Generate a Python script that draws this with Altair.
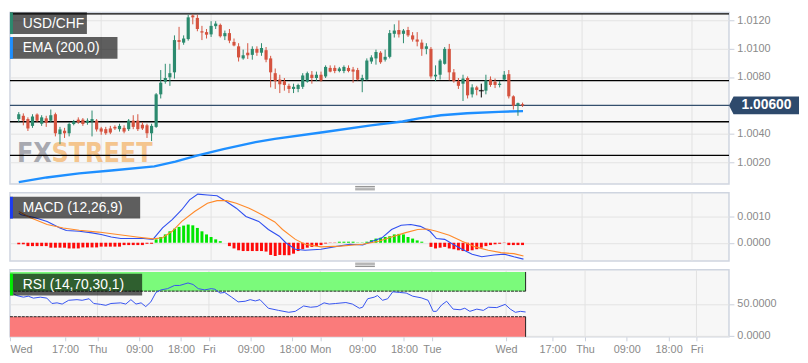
import altair as alt
import pandas as pd

# ---------------- data ----------------
# hourly USD/CHF candles, index 0 = Wed 06:00
opens = [1.00504, 1.00527, 1.00504, 1.00456, 1.00536, 1.00471, 1.00509, 1.00493, 1.00538, 1.00398,
         1.00422, 1.00404, 1.00469, 1.00500, 1.00500, 1.00478, 1.00487, 1.00493, 1.00438, 1.00433,
         1.00438, 1.00449, 1.00433, 1.00442, 1.00433, 1.00493, 1.00493, 1.00464, 1.00460, 1.00404,
         1.00449, 1.00678, 1.00767, 1.00798, 1.00833, 1.01060, 1.01042, 1.01067, 1.01233, 1.01216,
         1.01122, 1.01116, 1.01100, 1.01158, 1.01167, 1.01087, 1.01109, 1.01047, 1.01016, 1.00931,
         1.00971, 1.00956, 1.00998, 1.00971, 1.00989, 1.00931, 1.00827, 1.00782, 1.00771, 1.00738,
         1.00716, 1.00716, 1.00731, 1.00767, 1.00816, 1.00793, 1.00816, 1.00804, 1.00864, 1.00864,
         1.00842, 1.00842, 1.00864, 1.00853, 1.00849, 1.00776, 1.00782, 1.00909, 1.00931, 1.00971,
         1.00922, 1.00942, 1.01104, 1.01131, 1.01104, 1.01131, 1.01093, 1.01064, 1.01042, 1.00998,
         1.00998, 1.00804, 1.00816, 1.00893, 1.00998, 1.00833, 1.00771, 1.00753, 1.00793, 1.00678,
         1.00727, 1.00704, 1.00704, 1.00782, 1.00767, 1.00744, 1.00782, 1.00820, 1.00664, 1.00598,
         1.00609]
highs = [1.00553, 1.00544, 1.00516, 1.00538, 1.00544, 1.00531, 1.00527, 1.00571, 1.00549, 1.00449,
         1.00442, 1.00482, 1.00498, 1.00516, 1.00511, 1.00509, 1.00564, 1.00504, 1.00449, 1.00449,
         1.00456, 1.00460, 1.00471, 1.00460, 1.00504, 1.00531, 1.00538, 1.00482, 1.00471, 1.00471,
         1.00687, 1.00849, 1.00893, 1.00893, 1.01093, 1.01153, 1.01093, 1.01238, 1.01242, 1.01238,
         1.01160, 1.01138, 1.01193, 1.01193, 1.01176, 1.01127, 1.01138, 1.01071, 1.01038, 1.00993,
         1.01038, 1.01016, 1.01016, 1.01038, 1.01011, 1.00949, 1.00860, 1.00816, 1.00793, 1.00753,
         1.00753, 1.00753, 1.00827, 1.00838, 1.00842, 1.00838, 1.00838, 1.00882, 1.00882, 1.00882,
         1.00871, 1.00882, 1.00882, 1.00871, 1.00864, 1.00816, 1.00931, 1.00953, 1.00993, 1.00982,
         1.00993, 1.01131, 1.01171, 1.01198, 1.01138, 1.01153, 1.01116, 1.01116, 1.01064, 1.01038,
         1.01011, 1.00882, 1.00927, 1.01011, 1.01033, 1.00856, 1.00793, 1.00816, 1.00804, 1.00749,
         1.00738, 1.00753, 1.00816, 1.00804, 1.00789, 1.00771, 1.00842, 1.00849, 1.00671, 1.00620,
         1.00620]
lows = [1.00482, 1.00460, 1.00420, 1.00442, 1.00482, 1.00456, 1.00449, 1.00482, 1.00382, 1.00327,
        1.00371, 1.00382, 1.00460, 1.00471, 1.00456, 1.00464, 1.00382, 1.00416, 1.00393, 1.00393,
        1.00398, 1.00427, 1.00416, 1.00404, 1.00420, 1.00433, 1.00420, 1.00427, 1.00371, 1.00349,
        1.00442, 1.00649, 1.00753, 1.00738, 1.00789, 1.00993, 1.01027, 1.01056, 1.01171, 1.01122,
        1.01060, 1.01071, 1.01082, 1.01138, 1.01078, 1.01060, 1.01038, 1.01016, 1.00909, 1.00922,
        1.00927, 1.00922, 1.00949, 1.00949, 1.00904, 1.00727, 1.00716, 1.00687, 1.00704, 1.00687,
        1.00687, 1.00693, 1.00716, 1.00760, 1.00753, 1.00771, 1.00767, 1.00793, 1.00833, 1.00827,
        1.00833, 1.00827, 1.00833, 1.00760, 1.00776, 1.00693, 1.00776, 1.00893, 1.00887, 1.00893,
        1.00909, 1.00931, 1.01078, 1.01078, 1.01038, 1.01082, 1.01049, 1.01016, 1.00949, 1.00960,
        1.00789, 1.00771, 1.00782, 1.00887, 1.00776, 1.00760, 1.00716, 1.00631, 1.00649, 1.00656,
        1.00671, 1.00656, 1.00678, 1.00731, 1.00722, 1.00727, 1.00776, 1.00649, 1.00571, 1.00527,
        1.00589]
closes = [1.00538, 1.00493, 1.00438, 1.00522, 1.00493, 1.00516, 1.00478, 1.00531, 1.00404, 1.00431,
          1.00404, 1.00469, 1.00487, 1.00482, 1.00469, 1.00493, 1.00504, 1.00431, 1.00416, 1.00404,
          1.00409, 1.00438, 1.00456, 1.00416, 1.00493, 1.00449, 1.00433, 1.00438, 1.00404, 1.00456,
          1.00678, 1.00760, 1.00793, 1.00827, 1.01060, 1.01047, 1.01071, 1.01220, 1.01220, 1.01138,
          1.01113, 1.01098, 1.01160, 1.01176, 1.01087, 1.01109, 1.01056, 1.01022, 1.00938, 1.00953,
          1.00953, 1.00998, 1.00971, 1.01004, 1.00922, 1.00833, 1.00771, 1.00749, 1.00744, 1.00716,
          1.00731, 1.00744, 1.00811, 1.00827, 1.00793, 1.00816, 1.00776, 1.00871, 1.00838, 1.00842,
          1.00860, 1.00871, 1.00842, 1.00838, 1.00782, 1.00793, 1.00916, 1.00938, 1.00976, 1.00904,
          1.00942, 1.01109, 1.01127, 1.01100, 1.01127, 1.01093, 1.01064, 1.01049, 1.00998, 1.01016,
          1.00804, 1.00816, 1.00916, 1.00998, 1.00833, 1.00771, 1.00738, 1.00789, 1.00671, 1.00727,
          1.00709, 1.00704, 1.00776, 1.00744, 1.00744, 1.00753, 1.00816, 1.00664, 1.00598, 1.00616,
          1.00600]

ema_idx = [0, 6.1, 13.2, 20.2, 29.6, 34.2, 39.1, 44.7, 51.7, 55.9, 66.4, 76.9, 83.8, 87.4, 92.2, 97.9, 104.8, 110.1]
ema_val = [1.00060, 1.00093, 1.00122, 1.00142, 1.00171, 1.00205, 1.00249, 1.00293, 1.00342, 1.00365,
           1.00411, 1.00460, 1.00487, 1.00509, 1.00531, 1.00545, 1.00555, 1.00560]

levels = [1.01245, 1.00775, 1.00485, 1.00248]
last_price = 1.00600

macd_hist = [-0.00006, -0.00006, -0.00013, -0.00013, -0.00013, -0.00013, -0.00013, -0.00019, -0.00019, -0.00019,
             -0.00019, -0.00022, -0.00022, -0.00022, -0.00018, -0.00018, -0.00018, -0.00018, -0.00015, -0.00015,
             -0.00015, -0.00015, -0.00015, -0.00009, -0.00009, -0.00009, -0.00009, -0.00009, -0.00004, -0.00004,
             0.00013, 0.00022, 0.00032, 0.00044, 0.00054, 0.00061, 0.00066, 0.00070, 0.00067, 0.00057,
             0.00044, 0.00032, 0.00022, 0.00013, 0.00006, 0.0, -0.00013, -0.00022, -0.00029, -0.00032,
             -0.00032, -0.00032, -0.00032, -0.00032, -0.00034, -0.00047, -0.00051, -0.00047, -0.00048, -0.00048,
             -0.00042, -0.00032, -0.00025, -0.00019, -0.00016, -0.00013, -0.00009, -0.00003, -0.00001, -0.00001,
             0.00004, 0.00004, 0.00004, 0.00004, 0.00001, 0.00001, 0.00004, 0.00010, 0.00016, 0.00019,
             0.00022, 0.00025, 0.00032, 0.00034, 0.00032, 0.00022, 0.00016, 0.00009, 0.00004, 0.0,
             -0.00016, -0.00022, -0.00019, -0.00016, -0.00022, -0.00025, -0.00029, -0.00032, -0.00032, -0.00029,
             -0.00025, -0.00019, -0.00013, -0.00009, -0.00006, -0.00004, -0.00001, -0.00009, -0.00009, -0.00009,
             -0.00009]
macd_idx = [0, 0.56, 3.4, 6.2, 9.0, 10.4, 13.2, 16.0, 18.0, 20.2, 22.3, 27.2, 29.3, 31.4, 33.5, 35.6, 37.3,
            39.1, 41.2, 43.3, 45.4, 47.5, 49.6, 52.4, 54.5, 56.9, 58.3, 60.4, 62.5, 66.0, 68.8, 72.3, 75.1,
            77.2, 79.3, 81.4, 83.5, 85.6, 87.7, 89.8, 91.2, 93.0, 94.8, 96.8, 99.0, 101.1, 103.8, 106.0,
            108.1, 110.2]
macd_val = [0.00114, 0.00108, 0.00097, 0.00082, 0.00057, 0.00047, 0.00044, 0.00038, 0.00032, 0.00022,
            0.00016, 0.00016, 0.00013, 0.00057, 0.00089, 0.00127, 0.00165, 0.00187, 0.00184, 0.00181,
            0.00158, 0.00133, 0.00101, 0.00082, 0.00051, 0.00025, 0.0, -0.00025, -0.00029, -0.00025,
            -0.00016, -0.00006, -0.00009, 0.00006, 0.00019, 0.00051, 0.00067, 0.00070, 0.00063, 0.00044,
            0.00016, 0.00013, -0.00006, -0.00025, -0.00044, -0.00054, -0.00047, -0.00044, -0.00054, -0.00063]
sig_idx = [0, 2.7, 6.2, 9.7, 13.2, 17.4, 21.6, 25.8, 29.3, 31.4, 33.5, 35.6, 38.4, 41.2, 43.3, 45.4, 47.5,
           50.3, 53.1, 55.9, 57.6, 60.4, 62.5, 66.0, 70.2, 75.1, 78.6, 81.4, 84.3, 87.1, 89.2, 91.2, 94.0,
           96.8, 99.7, 102.5, 105.3, 108.1, 110.2]
sig_val = [0.00120, 0.00095, 0.00070, 0.00057, 0.00048, 0.00041, 0.00032, 0.00022, 0.00015, 0.00019,
           0.00044, 0.00082, 0.00120, 0.00152, 0.00162, 0.00162, 0.00152, 0.00133, 0.00108, 0.00080,
           0.00051, 0.00013, -0.00006, -0.00016, -0.00013, -0.00006, 0.00006, 0.00022, 0.00038, 0.00051,
           0.00053, 0.00044, 0.00029, 0.00006, -0.00016, -0.00029, -0.00038, -0.00042, -0.00051]

rsi_idx = [0, 0.6, 2.05, 3.1, 4.2, 5.7, 7.1, 8.2, 9.3, 10.4, 11.8, 13.6, 14.7, 16.2, 17.2, 18.7, 19.8, 20.9,
           23.0, 24.1, 25.2, 26.3, 27.4, 28.4, 29.5, 30.6, 31.7, 33.1, 34.6, 35.7, 37.5, 38.6, 39.7, 41.1,
           42.5, 43.3, 44.4, 45.4, 46.9, 48.3, 49.8, 50.9, 52.0, 53.0, 54.8, 57.0, 59.2, 60.6, 62.4, 63.9,
           65.3, 66.8, 67.9, 69.3, 71.5, 72.9, 74.4, 75.1, 76.2, 77.6, 78.3, 79.4, 80.5, 81.6, 83.0, 84.5,
           85.9, 87.7, 89.2, 90.3, 91.0, 92.1, 93.2, 94.6, 96.1, 97.1, 98.2, 99.7, 101.1, 102.2, 104.0,
           105.8, 106.9, 108.0, 109.1, 110.2]
rsi_val = [65.6, 63.1, 60.6, 62.1, 59.1, 60.6, 59.1, 50.7, 51.7, 49.8, 55.7, 56.7, 55.7, 58.1, 50.7, 49.3,
           47.8, 50.7, 51.7, 49.8, 56.7, 49.8, 51.7, 45.8, 53.2, 68.0, 72.0, 73.9, 78.9, 78.9, 82.8, 80.4,
           73.9, 72.0, 73.9, 73.0, 67.0, 68.0, 60.6, 53.2, 54.2, 56.7, 54.7, 56.7, 43.3, 39.9, 36.9, 38.4,
           46.8, 44.8, 45.8, 51.7, 49.8, 50.7, 52.2, 49.8, 43.3, 44.8, 58.1, 60.6, 63.1, 55.7, 58.1, 69.0,
           68.0, 67.0, 62.1, 59.6, 55.7, 38.4, 38.4, 48.3, 54.2, 41.9, 40.9, 43.3, 38.4, 41.9, 39.9, 44.8,
           44.3, 49.3, 41.9, 36.9, 38.4, 37.4]
rsi_upper = 70
rsi_lower = 30

tick_pos = [-0.84, 11, 18, 27, 36, 42, 51, 60, 66, 75, 84, 90, 106, 116, 123, 132, 141, 147]
tick_lab = ["Wed", "17:00", "Thu", "09:00", "18:00", "Fri", "09:00", "18:00", "Mon", "09:00", "18:00",
            "Tue", "Wed", "17:00", "Thu", "09:00", "18:00", "Fri"]
day_pos = [18, 42, 66, 90, 106, 123, 147]

price_ticks = [1.002, 1.004, 1.008, 1.010, 1.012]
macd_ticks = [0.0, 0.001]
rsi_ticks = [0, 50]

title_main = "USD/CHF"
title_ema = "EMA (200,0)"
title_macd = "MACD (12,26,9)"
title_rsi = "RSI (14,70,30,1)"

# ---------------- styling ----------------
TEAL = "#2b8a6e"
RED = "#d5533f"
FONT = "Liberation Sans"
W = 729
X0, X1 = -0.84, 154.0

xs = alt.Scale(domain=[X0, X1], nice=False, zero=False)
ys_p = alt.Scale(domain=[1.00047, 1.01255], nice=False, zero=False)
ys_m = alt.Scale(domain=[-0.00070, 0.00192], nice=False, zero=False)
ys_r = alt.Scale(domain=[-1.5, 103.4], nice=False, zero=False)


def yaxis(vals):
    return alt.Axis(orient="right", values=vals, format=".4f", grid=True, gridColor="#e3e3e3",
                    domain=False, tickColor="#c9cfdb", tickSize=5, labelColor="#8a8a8a",
                    labelFontSize=11, labelFont=FONT, labelPadding=3, title=None)


ax_p = yaxis(price_ticks)
ax_m = yaxis(macd_ticks)
ax_r = yaxis(rsi_ticks)

vals_js = "[" + ",".join(str(v) for v in tick_pos) + "]"
labs_js = "[" + ",".join("'" + s + "'" for s in tick_lab) + "]"
ax_x = alt.Axis(values=tick_pos, labelExpr=f"{labs_js}[indexof({vals_js}, datum.value)]",
                grid=False, domain=False, tickColor="#c9cfdb", tickSize=4, labelColor="#8a8a8a",
                labelFontSize=11, labelFont=FONT, labelFlush=True, labelOverlap=False,
                labelPadding=3, title=None)

n = len(closes)
dirs = ["up" if c > o else ("down" if c < o else "flat") for o, c in zip(opens, closes)]
candles = pd.DataFrame({"i": list(range(n)), "o": opens, "h": highs, "l": lows, "c": closes, "d": dirs})
days = pd.DataFrame({"pos": day_pos})
one = pd.DataFrame({"k": [0]})
cscale = alt.Scale(domain=["up", "down", "flat"], range=[TEAL, RED, "#000000"])


def label_box(text, x2, y0, y1, bar_color, box_color="#000000"):
    box = alt.Chart(one).mark_rect(color=box_color, opacity=0.62).encode(
        x=alt.value(0), x2=alt.value(x2), y=alt.value(y0), y2=alt.value(y1))
    bar = alt.Chart(one).mark_rect(color=bar_color).encode(
        x=alt.value(0), x2=alt.value(3), y=alt.value(y0), y2=alt.value(y1))
    txt = alt.Chart(one).mark_text(align="left", baseline="middle", color="white", fontSize=14,
                                   font=FONT, text=text).encode(
        x=alt.value(13), y=alt.value((y0 + y1) / 2 + 0.5))
    return [box, bar, txt]


def handle(y0):
    return [alt.Chart(one).mark_rule(color="#8f8f8f", strokeWidth=1).encode(
        x=alt.value(350), x2=alt.value(370), y=alt.value(y0 + k * 1.7)) for k in range(3)]


def vgrid(axis):
    return alt.Chart(days).mark_rule(color="#e3e3e3", strokeWidth=1).encode(
        x=alt.X("pos:Q", scale=xs, axis=axis))


# ---------------- main price panel ----------------
WM_FONT = "Liberation Sans Narrow, DejaVu Sans Condensed, sans-serif"
wm_fx = alt.Chart(one).mark_text(align="left", baseline="alphabetic", fontSize=27, fontWeight="bold",
                                 font=WM_FONT, color="#8e9099", opacity=0.75, text="FX").encode(
    x=alt.value(7), y=alt.value(152))
wm_st = alt.Chart(one).mark_text(align="left", baseline="alphabetic", fontSize=27, fontWeight="bold",
                                 font=WM_FONT, color="#f3b062", opacity=0.7, text="STREET").encode(
    x=alt.value(42), y=alt.value(152))

lv = pd.DataFrame({"p": levels})
lvl = alt.Chart(lv).mark_rule(color="#000000", strokeWidth=1.3).encode(
    y=alt.Y("p:Q", scale=ys_p, axis=ax_p))
cur = pd.DataFrame({"p": [last_price], "t": [f"{last_price:.5f}"]})
cur_line = alt.Chart(cur).mark_rule(color="#34506e", strokeWidth=1.2).encode(
    y=alt.Y("p:Q", scale=ys_p, axis=ax_p))
ema = alt.Chart(pd.DataFrame({"i": ema_idx, "v": ema_val})).mark_line(
    color="#1e8fff", strokeWidth=2.4).encode(
    x=alt.X("i:Q", scale=xs, axis=None), y=alt.Y("v:Q", scale=ys_p, axis=ax_p))
wicks = alt.Chart(candles).mark_rule(strokeWidth=1).encode(
    x=alt.X("i:Q", scale=xs, axis=None), y=alt.Y("l:Q", scale=ys_p, axis=ax_p), y2="h:Q",
    color=alt.Color("d:N", scale=cscale, legend=None))
bodies = alt.Chart(candles).mark_bar(width=3.2).encode(
    x=alt.X("i:Q", scale=xs, axis=None), y=alt.Y("o:Q", scale=ys_p, axis=ax_p), y2="c:Q",
    color=alt.Color("d:N", scale=cscale, legend=None))
flat = alt.Chart(candles).transform_filter("datum.d == 'flat'").mark_tick(
    orient="horizontal", thickness=1.5, size=5).encode(
    x=alt.X("i:Q", scale=xs, axis=None), y=alt.Y("o:Q", scale=ys_p, axis=ax_p),
    color=alt.Color("d:N", scale=cscale, legend=None))
tag_shape = "M-1,0 L-0.87,-0.254 L1,-0.254 L1,0.254 L-0.87,0.254 Z"
tag = alt.Chart(cur).mark_point(shape=tag_shape, size=5041, filled=True, opacity=1,
                                color="#2e4a6c", strokeWidth=0).encode(
    x=alt.value(764.5), y=alt.Y("p:Q", scale=ys_p, axis=ax_p))
tag_txt = alt.Chart(cur).mark_text(align="center", baseline="middle", color="white", fontSize=14,
                                   fontWeight="bold", font=FONT).encode(
    x=alt.value(767), y=alt.Y("p:Q", scale=ys_p, axis=ax_p), text="t:N")

main = alt.layer(
    vgrid(None), wm_fx, wm_st, lvl, cur_line, ema, wicks, bodies, flat,
    *label_box(title_main, 78, 0, 22, TEAL),
    *label_box(title_ema, 109, 25, 47, "#1e8fff"),
    tag, tag_txt,
).properties(width=W, height=174)

# ---------------- MACD panel ----------------
hist = pd.DataFrame({"i": list(range(len(macd_hist))), "h": macd_hist,
                     "s": ["pos" if v >= 0 else "neg" for v in macd_hist]})
bars = alt.Chart(hist).mark_bar(width=3).encode(
    x=alt.X("i:Q", scale=xs, axis=None), y=alt.Y("h:Q", scale=ys_m, axis=ax_m), y2=alt.datum(0),
    color=alt.Color("s:N", scale=alt.Scale(domain=["pos", "neg"], range=["#00e600", "#ff0a0a"]),
                    legend=None))
macd_line = alt.Chart(pd.DataFrame({"i": macd_idx, "v": macd_val})).mark_line(
    color="#2f4ff0", strokeWidth=1.1).encode(
    x=alt.X("i:Q", scale=xs, axis=None), y=alt.Y("v:Q", scale=ys_m, axis=ax_m))
sig_line = alt.Chart(pd.DataFrame({"i": sig_idx, "v": sig_val})).mark_line(
    color="#ff8a2a", strokeWidth=1.1).encode(
    x=alt.X("i:Q", scale=xs, axis=None), y=alt.Y("v:Q", scale=ys_m, axis=ax_m))

macd = alt.layer(
    vgrid(None), bars, macd_line, sig_line,
    *label_box(title_macd, 132, 4, 26, "#1c3cf2"),
    *handle(-6.5),
).properties(width=W, height=69)

# ---------------- RSI panel ----------------
band_end = (n - 1) + 0.2
bands = pd.DataFrame({"x0": [X0, X0], "x1": [band_end, band_end],
                      "y0": [rsi_upper, ys_r.domain[0]], "y1": [100, rsi_lower],
                      "edge": [rsi_upper, rsi_lower], "b": ["ob", "os"]})
band_rect = alt.Chart(bands).mark_rect().encode(
    x=alt.X("x0:Q", scale=xs, axis=ax_x), x2="x1:Q",
    y=alt.Y("y0:Q", scale=ys_r, axis=ax_r), y2="y1:Q",
    color=alt.Color("b:N", scale=alt.Scale(domain=["ob", "os"], range=["#7bfa7b", "#fa7b7b"]),
                    legend=None))
band_edge = alt.Chart(bands).mark_rule(color="#222222", strokeWidth=1, strokeDash=[3, 1]).encode(
    x=alt.X("x0:Q", scale=xs, axis=ax_x), x2="x1:Q", y=alt.Y("edge:Q", scale=ys_r, axis=ax_r))
band_side = alt.Chart(bands).mark_rule(color="#222222", strokeWidth=1).encode(
    x=alt.X("x1:Q", scale=xs, axis=ax_x), y=alt.Y("y0:Q", scale=ys_r, axis=ax_r), y2="y1:Q")
rsi_line = alt.Chart(pd.DataFrame({"i": rsi_idx, "v": rsi_val})).mark_line(
    color="#3552f0", strokeWidth=1).encode(
    x=alt.X("i:Q", scale=xs, axis=ax_x), y=alt.Y("v:Q", scale=ys_r, axis=ax_r))

rsi = alt.layer(
    vgrid(ax_x), band_rect, band_edge, band_side, rsi_line,
    *label_box(title_rsi, 134, 4, 26, "#00ee00"),
    *handle(-6.7),
).properties(width=W, height=68)

chart = alt.vconcat(main, macd, rsi, spacing=9, bounds="flush",
                    padding={"left": 0, "top": 0, "right": 0, "bottom": 0}).resolve_scale(
    color="independent").configure(
    background="#ffffff").configure_view(fill="#f7f7f7", stroke="#cfd5e0", strokeWidth=1.5)

chart.save("out.html", embed_options={"renderer": "svg", "actions": False})
